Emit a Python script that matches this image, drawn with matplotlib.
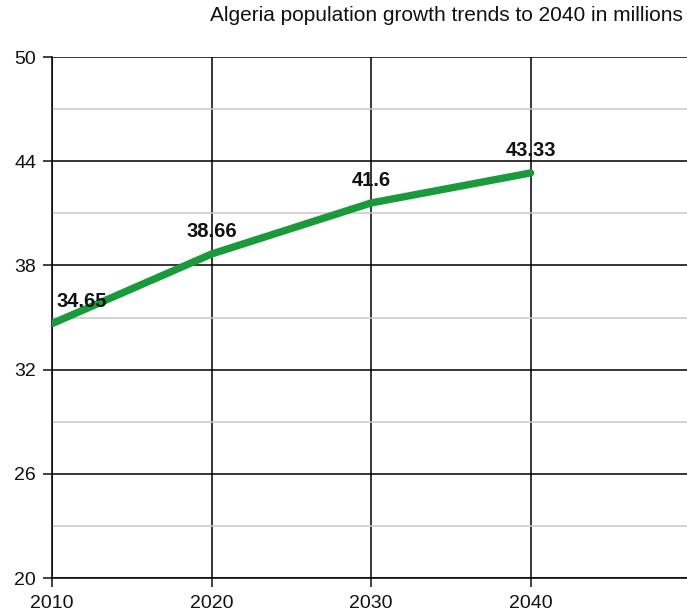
import matplotlib.pyplot as plt

plt.rcParams['font.family'] = ['Liberation Sans', 'DejaVu Sans']

years = [2010, 2020, 2030, 2040]
population = [34.65, 38.66, 41.6, 43.33]
labels = ['34.65', '38.66', '41.6', '43.33']
y_ticks = [20, 26, 32, 38, 44, 50]
y_minor = [23, 29, 35, 41, 47]
title = 'Algeria population growth trends to 2040 in millions'

fig = plt.figure(figsize=(6.87, 6.14), dpi=100)
ax = fig.add_axes([0.0757, 0.0586, 0.9243, 0.8484])

ax.plot(years, population, color='#1a9a3a', linewidth=5.3, solid_capstyle='round', zorder=3)

for i, (x, y, t) in enumerate(zip(years, population, labels)):
    ha = 'left' if i == 0 else 'center'
    ax.annotate(t, (x, y), xytext=(3.5 if i == 0 else 0, 12), textcoords='offset points',
                ha=ha, va='baseline', fontsize=14.5, fontweight='bold', color='#111111', zorder=4)

ax.set_xlim(2010, 2049.8)
ax.set_ylim(20, 50)
ax.set_xticks(years)
ax.set_yticks(y_ticks)
ax.set_yticks(y_minor, minor=True)

ax.grid(which='major', color='black', linewidth=1.1)
ax.grid(which='minor', axis='y', color='#c8c8c8', linewidth=1.1)
ax.tick_params(which='major', length=6.5, width=1.1, labelsize=14, colors='#111111')
ax.tick_params(which='minor', length=0)
ax.tick_params(axis='x', pad=5.5)
ax.tick_params(axis='y', pad=5)
for s in ['top', 'right']:
    ax.spines[s].set_visible(False)
ax.spines['left'].set_linewidth(1.1)
ax.spines['bottom'].set_linewidth(1.1)

fig.text(0.994, 0.974, title, ha='right', va='center', fontsize=15, color='#111111')

fig.savefig('out.png', dpi=100)
